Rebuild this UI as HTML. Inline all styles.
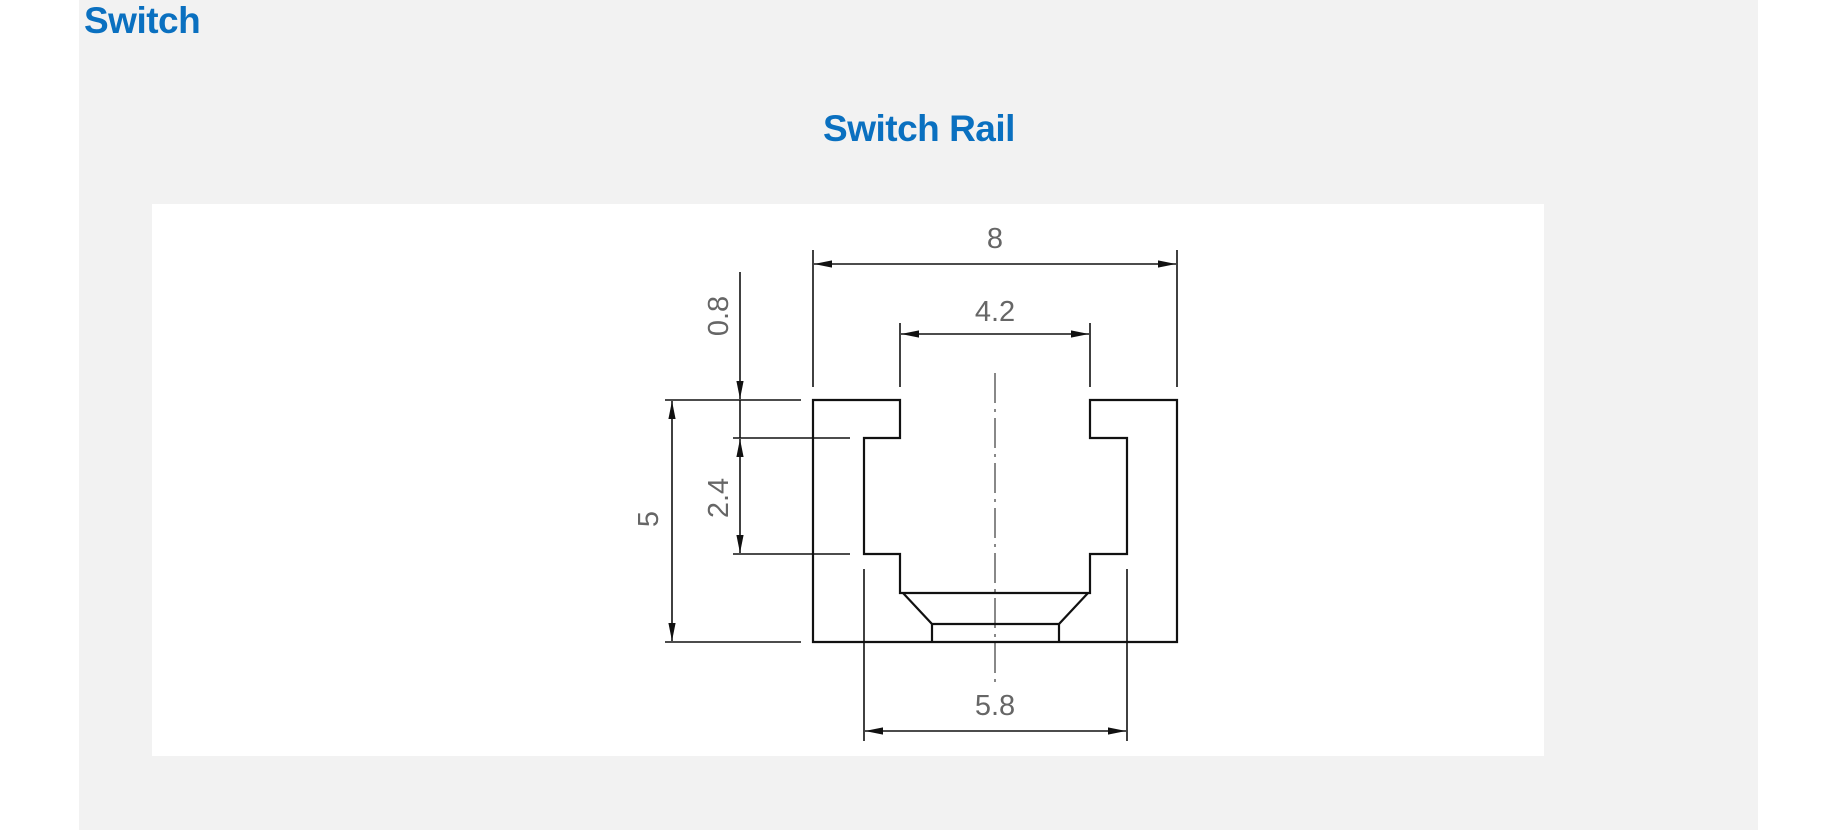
<!DOCTYPE html>
<html><head><style>
html,body{margin:0;padding:0;width:1838px;height:830px;background:#fff;overflow:hidden}
.bg{position:absolute;left:79px;top:0;width:1679px;height:830px;background:#f2f2f2}
.t1{position:absolute;left:84px;top:0px;font:bold 37px "Liberation Sans",sans-serif;color:#0a70c0;letter-spacing:-0.5px}
.t2{position:absolute;left:0;width:1838px;top:108px;text-align:center;font:bold 37px "Liberation Sans",sans-serif;color:#0a70c0;letter-spacing:-0.5px}
.wb{position:absolute;left:152px;top:204px;width:1392px;height:552px;background:#fff}
svg{position:absolute;left:0;top:0}
</style></head><body>
<div class="bg"></div>
<div class="t1">Switch</div>
<div class="t2">Switch Rail</div>
<div class="wb"></div>
<svg width="1838" height="830" viewBox="0 0 1838 830">
<defs>
<marker id="a" viewBox="0 0 10 10" refX="10" refY="5" markerWidth="18" markerHeight="8" markerUnits="userSpaceOnUse" orient="auto-start-reverse" preserveAspectRatio="none"><path d="M0,0.5 L10,5 L0,9.5 z" fill="#111"/></marker>
</defs>
<g fill="none" stroke="#111" stroke-width="2.2">
<path d="M813,400 H900 V438 H864 V554 H900 V593 H1090 V554 H1127 V438 H1090 V400 H1177 V642 H813 Z"/>
<path d="M903,593 L932,624 H1059 L1088,593"/>
<path d="M932,624 V642 M1059,624 V642"/>
</g>
<g stroke="#111" stroke-width="1.6" fill="none">
<line x1="813" y1="250" x2="813" y2="387"/>
<line x1="1177" y1="250" x2="1177" y2="387"/>
<line x1="900" y1="323" x2="900" y2="387"/>
<line x1="1090" y1="323" x2="1090" y2="387"/>
<line x1="864" y1="569" x2="864" y2="741"/>
<line x1="1127" y1="569" x2="1127" y2="741"/>
<line x1="665" y1="400" x2="801" y2="400"/>
<line x1="665" y1="642" x2="801" y2="642"/>
<line x1="733" y1="438" x2="850" y2="438"/>
<line x1="733" y1="554" x2="850" y2="554"/>
<line x1="814" y1="264" x2="1176" y2="264" marker-start="url(#a)" marker-end="url(#a)"/>
<line x1="901" y1="334" x2="1089" y2="334" marker-start="url(#a)" marker-end="url(#a)"/>
<line x1="865" y1="731" x2="1126" y2="731" marker-start="url(#a)" marker-end="url(#a)"/>
<line x1="740" y1="272" x2="740" y2="399" marker-end="url(#a)"/>
<line x1="740" y1="400" x2="740" y2="438"/>
<line x1="740" y1="439" x2="740" y2="553" marker-start="url(#a)" marker-end="url(#a)"/>
<line x1="672" y1="401" x2="672" y2="641" marker-start="url(#a)" marker-end="url(#a)"/>
<line x1="995" y1="373" x2="995" y2="684" stroke-dasharray="30,6,3,6" stroke-width="1"/>
</g>
<g font-family="Liberation Sans, sans-serif" font-size="29" fill="#666" text-anchor="middle">
<text x="995" y="248">8</text>
<text x="995" y="321">4.2</text>
<text x="995" y="715">5.8</text>
<text transform="translate(728,316) rotate(-90)">0.8</text>
<text transform="translate(728,498) rotate(-90)">2.4</text>
<text transform="translate(658,519) rotate(-90)">5</text>
</g>
</svg>
</body></html>
